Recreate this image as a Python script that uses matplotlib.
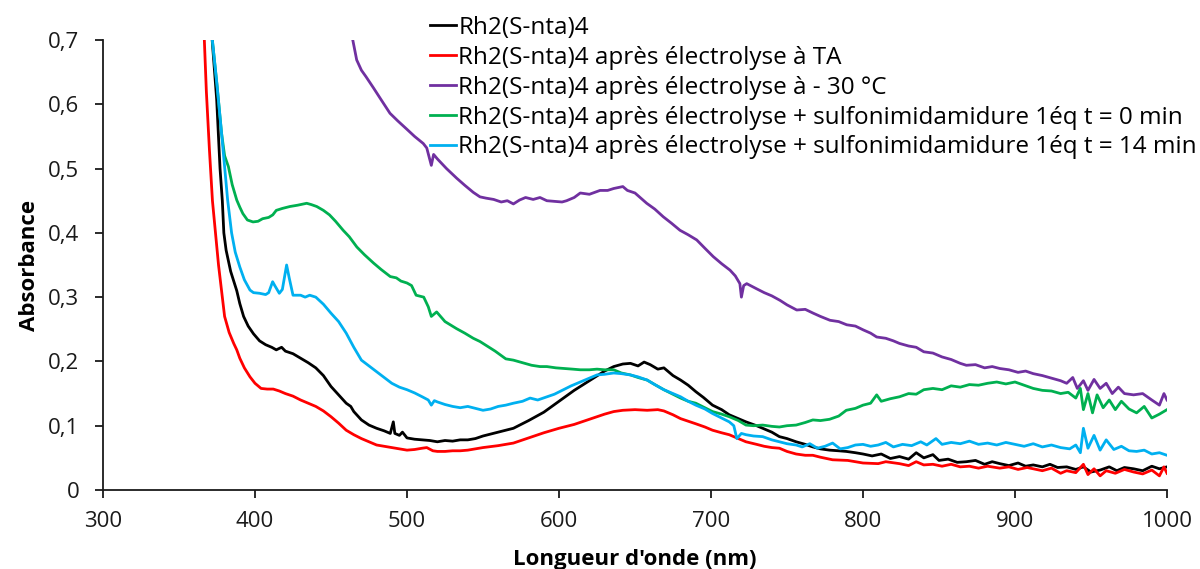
import matplotlib
matplotlib.use("Agg")
import matplotlib.pyplot as plt
from matplotlib.ticker import FuncFormatter

plt.rcParams['font.family'] = ['Open Sans', 'DejaVu Sans']

# --- UV-vis spectra: wavelength (nm) / absorbance ---
wl_ref = [371.5, 374.8, 377, 378.5, 379.5, 381, 384, 388, 390, 392.5, 395.5, 399, 403, 407, 411, 414,
          417.5, 420, 425, 430, 435, 440, 445, 450, 455, 460, 463, 465, 470, 475, 480, 485, 489, 491,
          492, 495, 497, 500, 505, 510, 515, 520, 525, 530, 535, 540, 545, 550, 560, 570, 580, 590,
          600, 610, 620, 630, 636, 642, 647, 652, 656, 660, 665, 669, 675, 680, 685, 690, 695, 701,
          707, 712, 718, 723, 730, 735, 740, 745, 750, 756, 762, 767, 772, 778, 784, 789, 795, 800,
          806, 812, 818, 824, 830, 835, 840, 846, 850, 856, 862, 868, 874, 880, 885, 890, 896, 902,
          907, 912, 918, 923, 928, 934, 940, 945, 950, 956, 962, 967, 972, 978, 984, 990, 995, 1000]
abs_ref = [0.71, 0.607, 0.50, 0.45, 0.40, 0.373, 0.34, 0.31, 0.29, 0.27, 0.255, 0.243, 0.232, 0.226,
           0.222, 0.218, 0.222, 0.216, 0.212, 0.205, 0.198, 0.19, 0.178, 0.161, 0.148, 0.135, 0.130,
           0.122, 0.109, 0.101, 0.096, 0.092, 0.088, 0.106, 0.088, 0.085, 0.09, 0.081, 0.079, 0.078,
           0.077, 0.075, 0.077, 0.076, 0.078, 0.078, 0.080, 0.084, 0.090, 0.096, 0.108, 0.121, 0.138,
           0.155, 0.170, 0.185, 0.192, 0.196, 0.197, 0.193, 0.199, 0.195, 0.188, 0.190, 0.178, 0.171,
           0.163, 0.153, 0.144, 0.132, 0.125, 0.117, 0.111, 0.106, 0.100, 0.095, 0.090, 0.083, 0.080,
           0.075, 0.071, 0.067, 0.064, 0.062, 0.061, 0.060, 0.058, 0.056, 0.053, 0.056, 0.049, 0.052,
           0.048, 0.058, 0.050, 0.055, 0.046, 0.048, 0.043, 0.044, 0.046, 0.040, 0.044, 0.041, 0.038,
           0.042, 0.037, 0.039, 0.036, 0.040, 0.035, 0.036, 0.032, 0.036, 0.028, 0.031, 0.036, 0.030,
           0.035, 0.033, 0.030, 0.037, 0.033, 0.036]

wl_ta = [366.5, 368, 370, 372, 374, 376, 378, 380, 383, 386, 388, 390, 393, 396.7, 400, 404, 408, 412,
         416, 420, 425, 430, 435, 440, 445, 450, 455, 460, 465, 470, 475, 480, 485, 490, 495, 500, 505,
         510, 513, 517, 520, 525, 530, 535, 540, 545, 550, 560, 570, 580, 590, 600, 610, 620, 630, 636,
         642, 650, 658, 665, 669, 675, 680, 685, 690, 696, 701, 707, 712, 718, 723, 730, 735, 740, 745,
         750, 756, 762, 767, 772, 780, 790, 800, 810, 815, 824, 830, 835, 840, 846, 852, 858, 864, 870,
         876, 882, 890, 896, 902, 908, 912, 918, 924, 930, 934, 940, 945, 948, 952, 956, 960, 966, 972,
         978, 984, 990, 995, 998, 1000]
abs_ta = [0.71, 0.62, 0.53, 0.45, 0.40, 0.35, 0.31, 0.27, 0.245, 0.228, 0.218, 0.205, 0.19, 0.176,
          0.166, 0.158, 0.157, 0.157, 0.154, 0.150, 0.146, 0.140, 0.135, 0.130, 0.123, 0.114, 0.104,
          0.093, 0.086, 0.080, 0.075, 0.070, 0.068, 0.066, 0.064, 0.062, 0.063, 0.065, 0.066, 0.061,
          0.060, 0.060, 0.061, 0.061, 0.062, 0.064, 0.066, 0.069, 0.073, 0.081, 0.089, 0.096, 0.102,
          0.110, 0.118, 0.122, 0.124, 0.125, 0.124, 0.125, 0.123, 0.117, 0.111, 0.107, 0.103, 0.098,
          0.093, 0.089, 0.086, 0.080, 0.075, 0.071, 0.068, 0.066, 0.065, 0.060, 0.056, 0.054, 0.054,
          0.051, 0.047, 0.046, 0.042, 0.041, 0.044, 0.041, 0.038, 0.044, 0.039, 0.040, 0.037, 0.040,
          0.036, 0.037, 0.034, 0.037, 0.034, 0.036, 0.032, 0.035, 0.033, 0.030, 0.034, 0.026, 0.030,
          0.027, 0.040, 0.024, 0.033, 0.022, 0.030, 0.026, 0.032, 0.028, 0.025, 0.031, 0.022, 0.036,
          0.026]

wl_cold = [463.5, 466.9, 470, 473, 477.8, 483, 488.8, 494, 500, 505, 510.7, 513, 516, 517.5, 520, 526,
           532.7, 538, 543.6, 548, 552, 557, 562, 566, 570, 574, 578, 583, 587.5, 592, 597, 602, 605,
           610, 614, 620, 627, 632, 636, 642, 645, 650, 657.7, 663, 668.6, 674, 679.6, 685, 690.6, 696,
           701.5, 707, 712.5, 716, 719, 720, 721.5, 723.5, 730, 735, 740, 745.4, 750, 756.4, 762, 767.3,
           772, 778.3, 784, 789.3, 795, 800.2, 805, 809, 815, 820, 824, 830, 835, 840, 846, 852, 858,
           864, 868, 874, 880, 885, 890, 896, 902, 907, 912, 918, 924, 930, 934, 938, 941, 945, 948,
           952, 956, 960, 964, 968, 972, 978, 984, 990, 995, 998, 1000]
abs_cold = [0.71, 0.669, 0.653, 0.643, 0.626, 0.607, 0.586, 0.574, 0.561, 0.550, 0.539, 0.532, 0.505,
            0.522, 0.515, 0.500, 0.485, 0.474, 0.463, 0.456, 0.454, 0.452, 0.448, 0.450, 0.445, 0.451,
            0.455, 0.452, 0.455, 0.450, 0.449, 0.448, 0.450, 0.455, 0.462, 0.460, 0.466, 0.466, 0.469,
            0.472, 0.466, 0.462, 0.446, 0.437, 0.425, 0.415, 0.404, 0.397, 0.389, 0.376, 0.363, 0.352,
            0.342, 0.333, 0.321, 0.300, 0.318, 0.321, 0.313, 0.307, 0.302, 0.295, 0.288, 0.280, 0.281,
            0.275, 0.270, 0.264, 0.262, 0.257, 0.255, 0.249, 0.244, 0.238, 0.236, 0.232, 0.228, 0.224,
            0.222, 0.215, 0.213, 0.207, 0.203, 0.197, 0.194, 0.195, 0.190, 0.192, 0.189, 0.187, 0.183,
            0.185, 0.181, 0.178, 0.174, 0.170, 0.166, 0.175, 0.158, 0.170, 0.155, 0.172, 0.158, 0.166,
            0.150, 0.160, 0.150, 0.148, 0.150, 0.140, 0.132, 0.150, 0.140]

wl_t0 = [371.5, 375, 378, 380, 382.5, 385, 388, 390, 392, 395, 398.7, 402, 405, 409, 411.7, 414, 418,
         423, 428, 434, 437, 440.6, 445, 449, 453, 458, 462, 467, 472, 478, 483, 489, 493, 496, 500, 503,
         506, 511, 514, 516, 519.5, 525, 532.6, 538, 543.6, 548, 552, 558, 565, 570, 576, 582, 587.5,
         592, 598, 604, 609, 614, 620, 625, 630, 636, 641, 647, 652, 658, 663, 669, 675, 680, 685, 690,
         696, 701, 707, 712, 718, 723, 728, 734, 740, 745, 750, 756, 762, 767, 772, 778, 784, 789, 795,
         800, 805, 809, 812, 818, 824, 830, 835, 840, 846, 852, 858, 864, 870, 876, 882, 888, 894, 900,
         906, 912, 918, 924, 930, 935, 940, 943, 945, 948, 951, 954, 958, 962, 966, 970, 975, 980, 985,
         990, 995, 1000]
abs_t0 = [0.71, 0.63, 0.555, 0.52, 0.503, 0.475, 0.451, 0.44, 0.43, 0.42, 0.417, 0.418, 0.422, 0.424,
          0.428, 0.435, 0.438, 0.441, 0.443, 0.446, 0.444, 0.441, 0.435, 0.428, 0.418, 0.404, 0.394,
          0.378, 0.366, 0.353, 0.343, 0.332, 0.330, 0.325, 0.322, 0.318, 0.303, 0.300, 0.285, 0.270,
          0.277, 0.262, 0.251, 0.244, 0.236, 0.231, 0.225, 0.216, 0.204, 0.202, 0.198, 0.194, 0.192,
          0.192, 0.190, 0.189, 0.188, 0.187, 0.187, 0.188, 0.187, 0.187, 0.182, 0.179, 0.175, 0.171,
          0.164, 0.156, 0.149, 0.143, 0.138, 0.135, 0.128, 0.122, 0.118, 0.114, 0.108, 0.101, 0.100,
          0.101, 0.099, 0.098, 0.100, 0.101, 0.105, 0.109, 0.108, 0.110, 0.115, 0.124, 0.127, 0.132,
          0.135, 0.148, 0.138, 0.142, 0.145, 0.150, 0.149, 0.156, 0.158, 0.156, 0.162, 0.160, 0.164,
          0.163, 0.166, 0.168, 0.165, 0.168, 0.163, 0.158, 0.155, 0.154, 0.150, 0.152, 0.143, 0.158,
          0.125, 0.150, 0.120, 0.148, 0.128, 0.140, 0.125, 0.138, 0.126, 0.120, 0.130, 0.112, 0.118,
          0.125]

wl_t14 = [371.5, 375, 378, 380, 382, 384.6, 387, 390, 393, 396.7, 399, 403, 407, 409, 411.6, 413, 416,
          418, 420.8, 422.5, 425, 430, 433, 436, 440, 445, 450, 455, 460, 465, 470, 475, 480, 485, 490,
          495, 500, 505, 510, 514, 516, 518, 520, 525, 530, 535, 540, 545, 550, 555, 560, 565, 570, 576,
          581, 586, 592, 597, 603, 608, 614, 620, 625, 630, 636, 641, 647, 652, 658, 663, 669, 675, 680,
          685, 690, 696, 701, 707, 712, 715, 717, 720, 723, 728, 734, 740, 745, 750, 756, 760, 765, 770,
          775, 780, 785, 790, 795, 800, 805, 810, 815, 820, 826, 832, 838, 842, 848, 852, 858, 864, 870,
          876, 882, 888, 894, 900, 906, 912, 918, 924, 930, 936, 940, 943, 945, 948, 952, 956, 960, 965,
          970, 975, 980, 985, 990, 995, 1000]
abs_t14 = [0.71, 0.63, 0.555, 0.503, 0.451, 0.40, 0.37, 0.347, 0.327, 0.311, 0.307, 0.306, 0.304,
           0.307, 0.324, 0.318, 0.306, 0.312, 0.350, 0.33, 0.303, 0.303, 0.300, 0.303, 0.300, 0.289,
           0.275, 0.262, 0.244, 0.222, 0.202, 0.193, 0.184, 0.175, 0.166, 0.160, 0.156, 0.151, 0.145,
           0.140, 0.132, 0.139, 0.137, 0.133, 0.130, 0.128, 0.130, 0.127, 0.124, 0.126, 0.130, 0.132,
           0.135, 0.138, 0.143, 0.140, 0.145, 0.149, 0.156, 0.162, 0.168, 0.174, 0.179, 0.180, 0.182,
           0.181, 0.179, 0.176, 0.171, 0.164, 0.156, 0.150, 0.145, 0.138, 0.132, 0.126, 0.119, 0.112,
           0.106, 0.100, 0.080, 0.088, 0.086, 0.084, 0.083, 0.078, 0.075, 0.072, 0.070, 0.067, 0.072,
           0.065, 0.068, 0.073, 0.064, 0.066, 0.070, 0.071, 0.068, 0.070, 0.074, 0.067, 0.071, 0.069,
           0.075, 0.070, 0.080, 0.071, 0.074, 0.072, 0.076, 0.071, 0.073, 0.070, 0.074, 0.071, 0.068,
           0.072, 0.067, 0.070, 0.066, 0.064, 0.070, 0.058, 0.096, 0.065, 0.085, 0.062, 0.078, 0.063,
           0.068, 0.061, 0.060, 0.062, 0.056, 0.058, 0.054]

labels = [
    "Rh2(S-nta)4",
    "Rh2(S-nta)4 après électrolyse à TA",
    "Rh2(S-nta)4 après électrolyse à - 30 °C",
    "Rh2(S-nta)4 après électrolyse + sulfonimidamidure 1éq t = 0 min",
    "Rh2(S-nta)4 après électrolyse + sulfonimidamidure 1éq t = 14 min",
]
colors = ["#000000", "#FF0000", "#7030A0", "#00B050", "#00B0F0"]
series = [(wl_ref, abs_ref), (wl_ta, abs_ta), (wl_cold, abs_cold), (wl_t0, abs_t0), (wl_t14, abs_t14)]

x_ticks = [300, 400, 500, 600, 700, 800, 900, 1000]
y_ticks = [0, 0.1, 0.2, 0.3, 0.4, 0.5, 0.6, 0.7]

fig = plt.figure(figsize=(12, 5.69), dpi=100)
ax = fig.add_axes([103 / 1200, 1 - 490 / 569, (1167 - 103) / 1200, 450 / 569])

handles = []
for (x, y), c, lab in zip(series, colors, labels):
    h, = ax.plot(x, y, color=c, lw=2.0, label=lab, solid_joinstyle='round')
    handles.append(h)

ax.set_xlim(300, 1000)
ax.set_ylim(0, 0.7)
ax.set_xticks(x_ticks)
ax.set_yticks(y_ticks)
ax.yaxis.set_major_formatter(FuncFormatter(lambda v, p: "0" if abs(v) < 1e-9 else f"{v:.1f}".replace(".", ",")))

for s in ("top", "right"):
    ax.spines[s].set_visible(False)
for s in ("left", "bottom"):
    ax.spines[s].set_linewidth(1.3)
    ax.spines[s].set_color("#1a1a1a")
ax.tick_params(axis="both", direction="out", length=6, width=1.3, color="#1a1a1a",
               labelsize=16, labelcolor="#1a1a1a")
ax.tick_params(axis="y", pad=11)
ax.tick_params(axis="x", pad=9)

ax.set_xlabel("Longueur d'onde (nm)", fontsize=16, fontweight="bold", labelpad=12)
ax.set_ylabel("Absorbance", fontsize=16, fontweight="bold", labelpad=6)

fig.legend(handles, labels, loc="upper left", bbox_to_anchor=(430 / 1200, 1 - 16 / 569),
           bbox_transform=fig.transFigure, frameon=False, fontsize=17.5,
           handlelength=1.05, handletextpad=0.12, labelspacing=0.24, borderpad=0, borderaxespad=0)

fig.savefig("out.png", dpi=100)
